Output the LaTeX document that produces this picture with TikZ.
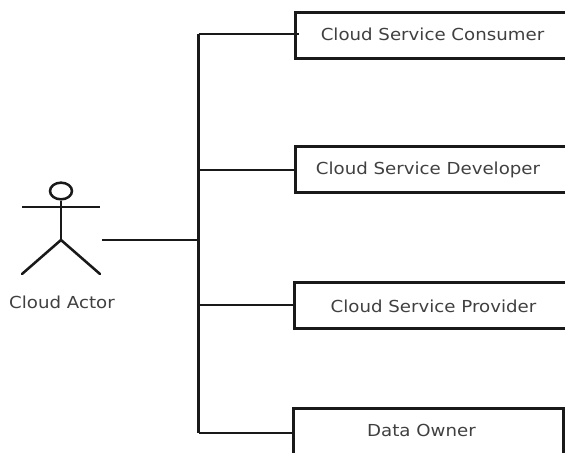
\documentclass[tikz,border=0pt]{standalone}
\usepackage{fontspec}
\usetikzlibrary{shapes.geometric}
\setmainfont[FakeStretch=1.1]{DejaVu Sans}
\tikzset{
  x=0.75pt,y=-0.75pt,
  ln/.style={line width=2.1pt,black!90},
  thin ln/.style={line width=1.9pt,black!90},
  txt/.style={font=\fontsize{12.4pt}{14pt}\selectfont,text=black!75,inner sep=0pt},
  bx/.style={draw=black!90,line width=2.1pt,minimum height=34.5pt,inner sep=0pt}
}
\begin{document}
\begin{tikzpicture}
\useasboundingbox (0,0) rectangle (565,453);
\clip (0,0) rectangle (565,453);
\node[bx,minimum width=208pt,anchor=north west] (b1) at (294,11) {};
\node[bx,minimum width=208pt,anchor=north west] (b2) at (294,145) {};
\node[bx,minimum width=208pt,anchor=north west] (b3) at (293,281) {};
\node[bx,minimum width=202.5pt,anchor=north west] (b4) at (292,407) {};
\node[txt] (t1) at (432.5,34) {Cloud Service Consumer};
\node[txt] (t2) at (428,170) {Cloud Service Developer};
\node[txt] (t3) at (433.5,306) {Cloud Service Provider};
\node[txt] (t4) at (421.5,430) {Data Owner};
\node[txt] (ta) at (62,302) {Cloud Actor};
\node[draw=black!90,line width=1.9pt,ellipse,minimum width=16.5pt,minimum height=12.5pt,inner sep=0pt] (head) at (61,191) {};
\coordinate (hip) at (61,240);
\coordinate (larm) at (22,207);
\coordinate (rarm) at (100,207);
\coordinate (lf) at (22,274);
\coordinate (rf) at (100,274);
\coordinate (s) at (102,240);
\coordinate (j0) at (198.5,240);
\coordinate (jt) at (198.5,34);
\coordinate (j2) at (198.5,170);
\coordinate (j3) at (198.5,305);
\coordinate (jb) at (198.5,433);
\draw[thin ln] (head.south) -- (hip);
\draw[thin ln] (larm) -- (rarm);
\draw[thin ln,line cap=round] (lf) -- (hip) -- (rf);
\draw[ln] (s) -- (j0);
\draw[ln] (jt) -- (jb);
\draw[ln] (jt) -- ([xshift=3.7pt]b1.west |- jt);
\draw[ln] (j2) -- (b2.west |- j2);
\draw[ln] (j3) -- (b3.west |- j3);
\draw[ln] (jb) -- (b4.west |- jb);
\end{tikzpicture}
\end{document}
